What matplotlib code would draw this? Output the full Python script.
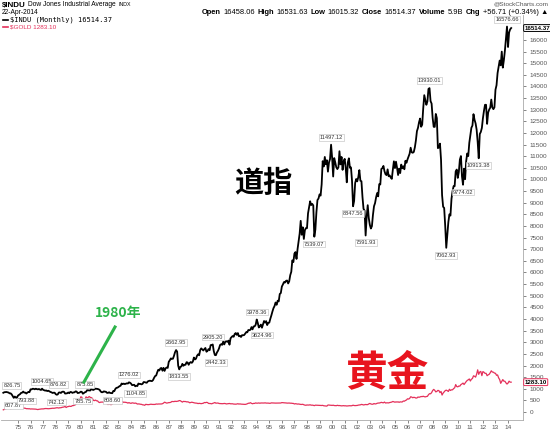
import numpy as np
import matplotlib.pyplot as plt
from matplotlib.lines import Line2D
from matplotlib.transforms import blended_transform_factory

plt.rcParams['font.family'] = ['Liberation Sans', 'DejaVu Sans']

# --- Monthly closes, Nov 1973 .. Apr 2014 ---
START_YEAR, START_MONTH = 1973, 11

dow_70s = [826.75, 850.86,
           855.55, 860.53, 846.68, 836.75, 802.17, 802.41, 757.43, 678.58, 607.87, 665.52, 618.66, 616.24,
           703.69, 739.05, 768.15, 821.34, 832.29, 878.99, 831.51, 835.34, 793.88, 836.04, 860.67, 852.41,
           975.28, 972.61, 999.45, 996.85, 975.23, 1002.78, 984.64, 973.74, 990.19, 964.93, 947.22, 1004.65,
           954.37, 936.42, 919.13, 926.90, 898.66, 916.30, 890.07, 861.49, 847.11, 818.35, 829.70, 831.17,
           769.92, 742.12, 757.36, 837.32, 840.61, 818.95, 862.27, 876.82, 865.82, 792.45, 799.03, 805.01,
           839.22, 808.82, 862.18, 854.90, 822.33, 841.98, 846.42, 887.63, 878.67, 815.70, 822.35, 838.74]
dow_80s = [875.85, 863.14, 785.75, 817.06, 850.85, 867.92, 935.32, 932.59, 932.42, 924.49, 993.34, 963.99,
           947.27, 974.58, 1003.87, 997.75, 991.75, 976.88, 952.34, 881.47, 849.98, 852.55, 888.98, 875.00,
           871.10, 824.39, 822.77, 848.36, 819.54, 811.93, 808.60, 901.31, 896.25, 991.72, 1039.28, 1046.54,
           1075.70, 1112.62, 1130.03, 1226.20, 1199.98, 1221.96, 1199.22, 1216.16, 1233.13, 1225.20, 1276.02, 1258.64,
           1220.58, 1154.63, 1164.89, 1170.75, 1104.85, 1132.40, 1115.28, 1224.38, 1206.71, 1207.38, 1188.94, 1211.57,
           1286.77, 1284.01, 1266.78, 1258.06, 1315.41, 1335.46, 1347.45, 1334.01, 1328.63, 1374.31, 1472.13, 1546.67,
           1570.99, 1709.06, 1818.61, 1783.98, 1876.71, 1892.72, 1775.31, 1898.34, 1767.58, 1877.81, 1914.23, 1895.95,
           2158.04, 2223.99, 2304.69, 2286.36, 2291.57, 2418.53, 2572.07, 2662.95, 2596.28, 1993.53, 1833.55, 1938.83,
           1958.22, 2071.62, 1988.06, 2032.33, 2031.12, 2141.71, 2128.73, 2031.65, 2112.91, 2148.65, 2114.51, 2168.57,
           2342.32, 2258.39, 2293.62, 2418.80, 2480.15, 2440.06, 2660.66, 2737.27, 2692.82, 2645.08, 2706.27, 2753.20]
dow_90s = [2590.54, 2627.25, 2707.21, 2656.76, 2876.66, 2880.69, 2905.20, 2614.36, 2452.48, 2442.33, 2559.65, 2633.66,
           2736.39, 2882.18, 2913.86, 2887.87, 3027.50, 2906.75, 3024.82, 3043.60, 3016.77, 3069.10, 2894.68, 3168.83,
           3223.40, 3267.67, 3235.47, 3359.12, 3396.88, 3318.52, 3393.78, 3257.35, 3271.66, 3226.28, 3305.16, 3301.11,
           3310.03, 3370.81, 3435.11, 3427.55, 3527.43, 3516.08, 3539.47, 3651.25, 3555.12, 3680.59, 3683.95, 3754.09,
           3978.36, 3832.02, 3635.96, 3681.69, 3758.37, 3624.96, 3764.50, 3913.42, 3843.19, 3908.12, 3739.23, 3834.44,
           3843.86, 4011.05, 4157.69, 4321.27, 4465.14, 4556.10, 4708.47, 4610.56, 4789.08, 4755.48, 5074.49, 5117.12,
           5395.30, 5485.62, 5587.14, 5569.08, 5643.18, 5654.63, 5528.91, 5616.21, 5882.17, 6029.38, 6521.70, 6448.27,
           6813.09, 6877.74, 6583.48, 7008.99, 7331.04, 7672.79, 8222.61, 7622.42, 7945.26, 7442.08, 7823.13, 7908.25,
           7906.50, 8545.72, 8799.81, 9063.37, 8899.95, 8952.02, 8883.29, 7539.07, 7842.62, 8592.10, 9116.55, 9181.43,
           9358.83, 9306.58, 9786.16, 10789.04, 10559.74, 10970.80, 10655.15, 10829.28, 10336.95, 10729.94, 10877.81, 11497.12]
dow_00s = [10940.53, 10128.31, 10921.92, 10733.91, 10522.33, 10447.89, 10521.98, 11215.10, 10650.92, 10971.14, 10414.49, 10786.85,
           10887.36, 10495.28, 9878.78, 10734.97, 10911.94, 10502.40, 10522.81, 9949.75, 8847.56, 9075.14, 9851.56, 10021.50,
           9920.00, 10106.13, 10403.94, 9946.22, 9925.25, 9243.26, 8736.59, 8663.50, 7591.93, 8397.03, 8896.09, 8341.63,
           8053.81, 7891.08, 7992.13, 8480.09, 8850.26, 8985.44, 9233.80, 9415.82, 9275.06, 9801.12, 9782.46, 10453.92,
           10488.07, 10583.92, 10357.70, 10225.57, 10188.45, 10435.48, 10139.71, 10173.92, 10080.27, 10027.47, 10428.02, 10783.01,
           10489.94, 10766.23, 10503.76, 10192.51, 10467.48, 10274.97, 10640.91, 10481.60, 10568.70, 10440.07, 10805.87, 10717.50,
           10864.86, 10993.41, 11109.32, 11367.14, 11168.31, 11150.22, 11185.68, 11381.15, 11679.07, 12080.73, 12221.93, 12463.15,
           12621.69, 12268.63, 12354.35, 13062.91, 13627.64, 13408.62, 13211.99, 13357.74, 13895.63, 13930.01, 13371.72, 13264.82,
           12650.36, 12266.39, 12262.89, 12820.13, 12638.32, 11350.01, 11378.02, 11543.55, 10850.66, 9325.01, 8829.04, 8776.39,
           8000.86, 7062.93, 7608.92, 8168.12, 8500.33, 8447.00, 9171.61, 9496.28, 9712.28, 9712.73, 10344.84, 10428.05]
dow_10s = [10067.33, 10325.26, 10856.63, 11008.61, 10136.63, 9774.02, 10465.94, 10014.72, 10788.05, 11118.49, 11006.02, 11577.51,
           11891.93, 12226.34, 12319.73, 12810.54, 12569.79, 12414.34, 12143.24, 11613.53, 10913.38, 11955.01, 12045.68, 12217.56,
           12632.91, 12952.07, 13212.04, 13213.63, 12393.45, 12880.09, 13008.68, 13090.84, 13437.13, 13096.46, 13025.58, 13104.14,
           13860.58, 14054.49, 14578.54, 14839.80, 15115.57, 14909.60, 15499.54, 14810.31, 15129.67, 15545.75, 16086.41, 16576.66,
           15698.85, 16321.71, 16457.66, 16514.37]

gold_70s = [94, 112,
            130, 150, 168, 172, 163, 143, 154, 154, 151, 158, 182, 187,
            175, 180, 178, 167, 167, 165, 166, 160, 142, 143, 138, 140,
            128, 132, 129, 128, 126, 123, 112, 104, 117, 123, 130, 134,
            132, 142, 149, 149, 143, 141, 144, 145, 154, 162, 160, 164,
            175, 182, 181, 170, 184, 183, 200, 208, 217, 242, 193, 226,
            233, 251, 240, 246, 275, 277, 296, 315, 397, 383, 415, 512]
gold_80s = [653, 637, 494, 518, 535, 653, 614, 627, 667, 629, 619, 590,
            500, 489, 513, 482, 479, 426, 406, 425, 428, 427, 414, 397,
            387, 362, 320, 361, 325, 315, 342, 411, 397, 423, 436, 456,
            481, 408, 414, 429, 437, 416, 422, 414, 405, 382, 405, 382,
            373, 394, 388, 375, 384, 373, 342, 348, 344, 333, 329, 309,
            306, 287, 329, 321, 316, 317, 327, 336, 327, 325, 325, 327,
            345, 338, 344, 345, 343, 346, 357, 384, 423, 401, 383, 391,
            405, 405, 419, 452, 451, 447, 463, 453, 459, 468, 492, 486,
            458, 426, 457, 451, 451, 436, 437, 427, 397, 412, 422, 410,
            395, 387, 383, 378, 362, 373, 368, 359, 366, 377, 408, 401]
gold_90s = [415, 407, 368, 367, 363, 352, 373, 387, 408, 380, 384, 386,
            366, 363, 356, 357, 360, 368, 362, 347, 354, 357, 366, 353,
            354, 353, 341, 337, 337, 343, 357, 340, 349, 339, 334, 333,
            330, 327, 337, 354, 377, 378, 401, 372, 355, 370, 370, 391,
            379, 381, 390, 377, 388, 386, 384, 386, 394, 383, 383, 383,
            375, 376, 392, 389, 385, 387, 383, 383, 383, 383, 387, 387,
            405, 400, 396, 392, 390, 382, 385, 386, 379, 379, 371, 369,
            345, 358, 348, 340, 345, 334, 326, 325, 332, 311, 296, 290,
            303, 298, 301, 310, 293, 296, 288, 273, 294, 292, 294, 288,
            287, 288, 280, 286, 268, 262, 255, 254, 299, 300, 291, 290]
gold_00s = [283, 293, 278, 275, 272, 288, 276, 278, 273, 264, 270, 273,
            265, 267, 258, 264, 267, 271, 265, 273, 293, 279, 275, 277,
            282, 296, 301, 308, 326, 318, 303, 312, 323, 317, 318, 347,
            368, 347, 334, 336, 364, 346, 354, 375, 385, 386, 398, 416,
            402, 396, 427, 387, 394, 395, 391, 408, 416, 429, 453, 438,
            422, 435, 428, 436, 417, 437, 430, 433, 473, 465, 495, 517,
            568, 556, 582, 654, 643, 613, 632, 623, 599, 604, 646, 632,
            650, 665, 662, 677, 659, 650, 665, 673, 743, 789, 783, 834,
            923, 972, 933, 865, 886, 930, 918, 833, 884, 730, 815, 869,
            919, 941, 916, 883, 979, 926, 955, 954, 1008, 1040, 1180, 1096]
gold_10s = [1081, 1116, 1113, 1180, 1207, 1244, 1182, 1248, 1307, 1358, 1384, 1421,
            1333, 1411, 1439, 1556, 1536, 1500, 1628, 1813, 1620, 1722, 1746, 1564,
            1738, 1710, 1662, 1664, 1561, 1598, 1622, 1687, 1772, 1719, 1712, 1675,
            1664, 1578, 1595, 1469, 1393, 1234, 1312, 1395, 1326, 1323, 1253, 1202,
            1244, 1326, 1284, 1283.10]

# labelled highs / lows: (text, year, month, side)
marks = [
    ('826.75', 1973, 11, 'hi'), ('607.87', 1974, 9, 'lo'), ('793.88', 1975, 9, 'lo'),
    ('1004.65', 1976, 12, 'hi'), ('742.12', 1978, 2, 'lo'), ('876.82', 1978, 8, 'hi'),
    ('875.85', 1980, 1, 'hi'), ('785.75', 1980, 3, 'lo'), ('808.60', 1982, 7, 'lo'),
    ('1276.02', 1983, 11, 'hi'), ('1104.85', 1984, 5, 'lo'), ('2662.95', 1987, 8, 'hi'),
    ('1833.55', 1987, 11, 'lo'), ('2905.20', 1990, 7, 'hi'), ('2442.33', 1990, 10, 'lo'),
    ('3978.36', 1994, 1, 'hi'), ('3624.96', 1994, 6, 'lo'), ('7539.07', 1998, 8, 'lo'),
    ('11497.12', 1999, 12, 'hi'), ('8847.56', 2001, 9, 'lo'), ('7591.93', 2002, 9, 'lo'),
    ('13930.01', 2007, 10, 'hi'), ('7062.93', 2009, 2, 'lo'), ('9774.02', 2010, 6, 'lo'),
    ('10913.38', 2011, 9, 'lo'), ('16576.66', 2013, 12, 'hi'),
]

# header quote line: (text, bold)
quote = [('Open', True), ('16458.06', False), ('High', True), ('16531.63', False),
         ('Low', True), ('16015.32', False), ('Close', True), ('16514.37', False),
         ('Volume', True), ('5.9B', False), ('Chg', True), ('+56.71 (+0.34%) ▲', False)]

dow = np.array(dow_70s + dow_80s + dow_90s + dow_00s + dow_10s)
gold = np.array(gold_70s + gold_80s + gold_90s + gold_00s + gold_10s, dtype=float)
x = START_YEAR + (START_MONTH - 1 + np.arange(len(dow))) / 12.0

W, H = 550, 430
GOLD_C = '#e4305a'
fig = plt.figure(figsize=(W / 100, H / 100), dpi=100)
fig.patch.set_facecolor('white')
renderer = fig.canvas.get_renderer()


def fx(px):
    return px / W


def fy(py):
    return 1 - py / H


def run_text(x0, y0, pieces, size, gap=2.0, measure=False, **kw):
    """Write pieces left to right starting at pixel x0, return end pixel."""
    xp = x0
    for txt, bold in pieces:
        t = fig.text(fx(xp), fy(y0), txt, fontsize=size, fontweight='bold' if bold else 'normal',
                     va='center', ha='left', **kw)
        xp += t.get_window_extent(renderer).width + gap
        if measure:
            t.remove()
    return xp


ax = fig.add_axes([fx(1), fy(420), fx(522), 405 / H])
ax.plot(x, gold, color=GOLD_C, lw=0.9, zorder=2)
ax.plot(x, dow, color='black', lw=1.3, zorder=3)

ax.set_xlim(1973.65, 2015.19)
ax.set_ylim(-344, 17075)

years = np.arange(1975, 2015)
ax.set_xticks(years)
ax.set_xticklabels([f'{y % 100:02d}' for y in years])
ax.set_yticks(np.arange(0, 16001, 500))
ax.yaxis.tick_right()
ax.tick_params(axis='both', labelsize=4.6, colors='#555555', length=2, width=0.5, pad=1.5)
ax.tick_params(axis='y', pad=3)
for side in ['top', 'left']:
    ax.spines[side].set_visible(False)
for side in ['right', 'bottom']:
    ax.spines[side].set_color('#aaaaaa')
    ax.spines[side].set_linewidth(0.6)

box = dict(boxstyle='square,pad=0.15', fc='white', ec='#bbbbbb', lw=0.4)
nudge = {'876.82': -3, '875.85': 3}
for text, yr, mo, side in marks:
    i = (yr - START_YEAR) * 12 + mo - START_MONTH
    hi = side == 'hi'
    ha = 'left' if i == 0 else 'center'
    ax.annotate(text, (x[i], dow[i]), xytext=(nudge.get(text, 0), 3.5 if hi else -3.5),
                textcoords='offset points', ha=ha, va='bottom' if hi else 'top',
                fontsize=4.1, color='#333333', bbox=box, zorder=5)

# last value tags on the price axis
tr = blended_transform_factory(ax.transAxes, ax.transData)
ax.text(1.003, dow[-1], f'{dow[-1]:.2f}', transform=tr, ha='left', va='center', fontsize=4.4,
        fontweight='bold', color='black', zorder=6, clip_on=False,
        bbox=dict(boxstyle='round,pad=0.15', fc='white', ec='black', lw=0.7))
ax.text(1.003, gold[-1], f'{gold[-1]:.2f}', transform=tr, ha='left', va='center', fontsize=4.4,
        fontweight='bold', color='black', zorder=6, clip_on=False,
        bbox=dict(boxstyle='round,pad=0.15', fc='white', ec=GOLD_C, lw=0.7))

# header
end = run_text(2, 5, [('$INDU', True)], 5.8, gap=2.5)
end = run_text(end, 5, [('Dow Jones Industrial Average', False)], 4.8, gap=2.5)
run_text(end, 5, [('INDX', False)], 3.8)
fig.text(fx(2), fy(13), '22-Apr-2014', fontsize=4.8, va='center', ha='left')
fig.text(fx(548), fy(4), '@StockCharts.com', fontsize=4.6, va='center', ha='right', color='#555555')
# measure the quote line, then right-align it at 548 px
width = run_text(0, 12, quote, 5.4, gap=2.5, measure=True) - 2.5
run_text(548 - width, 12, quote, 5.4, gap=2.5)

# legend
fig.add_artist(Line2D([fx(3), fx(8)], [fy(20), fy(20)], color='black', lw=1.2))
fig.text(fx(10), fy(20), '$INDU (Monthly) 16514.37', family='DejaVu Sans Mono', fontsize=5,
         va='center', ha='left')
fig.add_artist(Line2D([fx(3), fx(8)], [fy(27), fy(27)], color=GOLD_C, lw=1.2))
fig.text(fx(10), fy(27), '$GOLD 1283.10', fontsize=4.6, va='center', ha='left', color=GOLD_C)

# chinese call-outs
cjk = ['Noto Sans CJK SC', 'DejaVu Sans']
fig.text(fx(263), fy(183), '道指', family=cjk, fontsize=21, fontweight='black',
         ha='center', va='center', color='black')
fig.text(fx(387), fy(373), '黄金', family=cjk, fontsize=30, fontweight='black',
         ha='center', va='center', color='#e8141e')
fig.text(fx(118), fy(313), '1980年', family=cjk, fontsize=10, fontweight='bold',
         ha='center', va='center', color='#2db34a')
fig.add_artist(Line2D([fx(84), fx(115)], [fy(382), fy(327)], color='#2db34a', lw=2.2))

fig.savefig('out.png', dpi=100, facecolor='white')
